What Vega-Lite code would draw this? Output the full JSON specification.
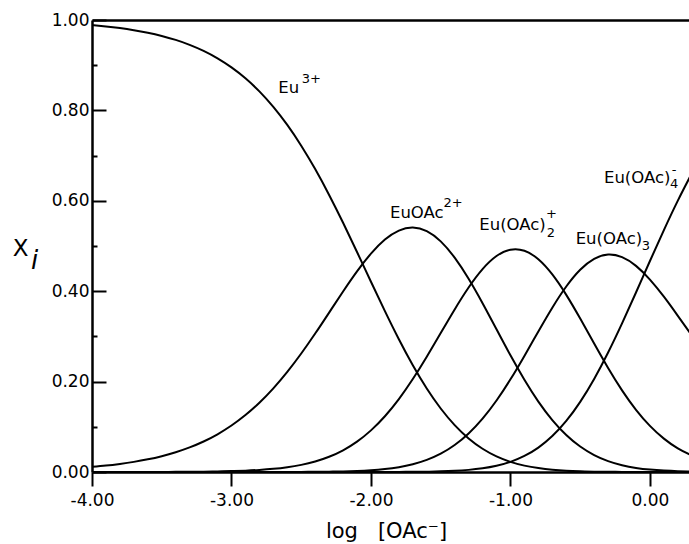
{
  "$schema": "https://vega.github.io/schema/vega-lite/v6.json",
  "width": 597,
  "height": 452,
  "autosize": {"type": "none"},
  "padding": {"left": 92, "top": 20, "right": 0, "bottom": 72},
  "background": "white",
  "config": {
    "view": {"stroke": null},
    "font": "DejaVu Sans",
    "axis": {"grid": false, "domainColor": "black", "tickColor": "black", "labelColor": "black", "titleColor": "black", "labelFont": "DejaVu Sans", "titleFont": "DejaVu Sans"}
  },
  "datasets": {
    "curves": [
      {"x": -4.0, "Eu3": 0.9886, "EuOAc": 0.0114, "EuOAc2": 0.0000, "EuOAc3": 0.0000, "EuOAc4": 0.0000},
      {"x": -3.9, "Eu3": 0.9857, "EuOAc": 0.0142, "EuOAc2": 0.0000, "EuOAc3": 0.0000, "EuOAc4": 0.0000},
      {"x": -3.8, "Eu3": 0.9821, "EuOAc": 0.0179, "EuOAc2": 0.0001, "EuOAc3": 0.0000, "EuOAc4": 0.0000},
      {"x": -3.7, "Eu3": 0.9775, "EuOAc": 0.0224, "EuOAc2": 0.0001, "EuOAc3": 0.0000, "EuOAc4": 0.0000},
      {"x": -3.6, "Eu3": 0.9718, "EuOAc": 0.0280, "EuOAc2": 0.0001, "EuOAc3": 0.0000, "EuOAc4": 0.0000},
      {"x": -3.5, "Eu3": 0.9648, "EuOAc": 0.0350, "EuOAc2": 0.0002, "EuOAc3": 0.0000, "EuOAc4": 0.0000},
      {"x": -3.4, "Eu3": 0.9560, "EuOAc": 0.0437, "EuOAc2": 0.0003, "EuOAc3": 0.0000, "EuOAc4": 0.0000},
      {"x": -3.3, "Eu3": 0.9451, "EuOAc": 0.0544, "EuOAc2": 0.0005, "EuOAc3": 0.0000, "EuOAc4": 0.0000},
      {"x": -3.2, "Eu3": 0.9317, "EuOAc": 0.0675, "EuOAc2": 0.0008, "EuOAc3": 0.0000, "EuOAc4": 0.0000},
      {"x": -3.1, "Eu3": 0.9153, "EuOAc": 0.0835, "EuOAc2": 0.0013, "EuOAc3": 0.0000, "EuOAc4": 0.0000},
      {"x": -3.0, "Eu3": 0.8952, "EuOAc": 0.1028, "EuOAc2": 0.0020, "EuOAc3": 0.0000, "EuOAc4": 0.0000},
      {"x": -2.9, "Eu3": 0.8711, "EuOAc": 0.1259, "EuOAc2": 0.0030, "EuOAc3": 0.0000, "EuOAc4": 0.0000},
      {"x": -2.8, "Eu3": 0.8421, "EuOAc": 0.1532, "EuOAc2": 0.0046, "EuOAc3": 0.0000, "EuOAc4": 0.0000},
      {"x": -2.7, "Eu3": 0.8078, "EuOAc": 0.1851, "EuOAc2": 0.0070, "EuOAc3": 0.0001, "EuOAc4": 0.0000},
      {"x": -2.6, "Eu3": 0.7678, "EuOAc": 0.2215, "EuOAc2": 0.0106, "EuOAc3": 0.0001, "EuOAc4": 0.0000},
      {"x": -2.5, "Eu3": 0.7219, "EuOAc": 0.2621, "EuOAc2": 0.0158, "EuOAc3": 0.0002, "EuOAc4": 0.0000},
      {"x": -2.4, "Eu3": 0.6701, "EuOAc": 0.3063, "EuOAc2": 0.0232, "EuOAc3": 0.0004, "EuOAc4": 0.0000},
      {"x": -2.3, "Eu3": 0.6129, "EuOAc": 0.3527, "EuOAc2": 0.0337, "EuOAc3": 0.0007, "EuOAc4": 0.0000},
      {"x": -2.2, "Eu3": 0.5513, "EuOAc": 0.3994, "EuOAc2": 0.0480, "EuOAc3": 0.0013, "EuOAc4": 0.0000},
      {"x": -2.1, "Eu3": 0.4867, "EuOAc": 0.4439, "EuOAc2": 0.0672, "EuOAc3": 0.0022, "EuOAc4": 0.0000},
      {"x": -2.0, "Eu3": 0.4208, "EuOAc": 0.4832, "EuOAc2": 0.0921, "EuOAc3": 0.0038, "EuOAc4": 0.0000},
      {"x": -1.9, "Eu3": 0.3558, "EuOAc": 0.5143, "EuOAc2": 0.1234, "EuOAc3": 0.0065, "EuOAc4": 0.0001},
      {"x": -1.8, "Eu3": 0.2936, "EuOAc": 0.5342, "EuOAc2": 0.1613, "EuOAc3": 0.0107, "EuOAc4": 0.0002},
      {"x": -1.7, "Eu3": 0.2361, "EuOAc": 0.5408, "EuOAc2": 0.2056, "EuOAc3": 0.0171, "EuOAc4": 0.0004},
      {"x": -1.6, "Eu3": 0.1847, "EuOAc": 0.5328, "EuOAc2": 0.2550, "EuOAc3": 0.0267, "EuOAc4": 0.0007},
      {"x": -1.5, "Eu3": 0.1405, "EuOAc": 0.5102, "EuOAc2": 0.3074, "EuOAc3": 0.0405, "EuOAc4": 0.0014},
      {"x": -1.4, "Eu3": 0.1038, "EuOAc": 0.4742, "EuOAc2": 0.3597, "EuOAc3": 0.0597, "EuOAc4": 0.0026},
      {"x": -1.3, "Eu3": 0.0743, "EuOAc": 0.4275, "EuOAc2": 0.4082, "EuOAc3": 0.0853, "EuOAc4": 0.0047},
      {"x": -1.2, "Eu3": 0.0515, "EuOAc": 0.3734, "EuOAc2": 0.4489, "EuOAc3": 0.1181, "EuOAc4": 0.0082},
      {"x": -1.1, "Eu3": 0.0346, "EuOAc": 0.3157, "EuOAc2": 0.4778, "EuOAc3": 0.1582, "EuOAc4": 0.0138},
      {"x": -1.0, "Eu3": 0.0225, "EuOAc": 0.2581, "EuOAc2": 0.4919, "EuOAc3": 0.2050, "EuOAc4": 0.0225},
      {"x": -0.9, "Eu3": 0.0141, "EuOAc": 0.2041, "EuOAc2": 0.4895, "EuOAc3": 0.2569, "EuOAc4": 0.0355},
      {"x": -0.8, "Eu3": 0.0086, "EuOAc": 0.1558, "EuOAc2": 0.4706, "EuOAc3": 0.3109, "EuOAc4": 0.0540},
      {"x": -0.7, "Eu3": 0.0050, "EuOAc": 0.1150, "EuOAc2": 0.4370, "EuOAc3": 0.3635, "EuOAc4": 0.0795},
      {"x": -0.6, "Eu3": 0.0028, "EuOAc": 0.0819, "EuOAc2": 0.3919, "EuOAc3": 0.4104, "EuOAc4": 0.1130},
      {"x": -0.5, "Eu3": 0.0016, "EuOAc": 0.0563, "EuOAc2": 0.3395, "EuOAc3": 0.4475, "EuOAc4": 0.1552},
      {"x": -0.4, "Eu3": 0.0008, "EuOAc": 0.0375, "EuOAc2": 0.2842, "EuOAc3": 0.4716, "EuOAc4": 0.2059},
      {"x": -0.3, "Eu3": 0.0004, "EuOAc": 0.0241, "EuOAc2": 0.2302, "EuOAc3": 0.4810, "EuOAc4": 0.2643},
      {"x": -0.2, "Eu3": 0.0002, "EuOAc": 0.0150, "EuOAc2": 0.1807, "EuOAc3": 0.4753, "EuOAc4": 0.3288},
      {"x": -0.1, "Eu3": 0.0001, "EuOAc": 0.0091, "EuOAc2": 0.1377, "EuOAc3": 0.4560, "EuOAc4": 0.3971},
      {"x": 0.0, "Eu3": 0.0000, "EuOAc": 0.0054, "EuOAc2": 0.1021, "EuOAc3": 0.4257, "EuOAc4": 0.4668},
      {"x": 0.1, "Eu3": 0.0000, "EuOAc": 0.0031, "EuOAc2": 0.0739, "EuOAc3": 0.3878, "EuOAc4": 0.5353},
      {"x": 0.2, "Eu3": 0.0000, "EuOAc": 0.0017, "EuOAc2": 0.0523, "EuOAc3": 0.3455, "EuOAc4": 0.6005},
      {"x": 0.3, "Eu3": 0.0000, "EuOAc": 0.0010, "EuOAc2": 0.0363, "EuOAc3": 0.3020, "EuOAc4": 0.6607}
    ],
    "labels": [
      {"t": "Eu", "x": -2.6645, "y": 0.8378},
      {"t": "EuOAc", "x": -1.8638, "y": 0.5613},
      {"t": "Eu(OAc)", "x": -1.2237, "y": 0.5354},
      {"t": "Eu(OAc)", "x": -0.5326, "y": 0.5044},
      {"t": "Eu(OAc)", "x": -0.3297, "y": 0.6400}
    ],
    "scripts": [
      {"t": "3+", "x": -2.4968, "y": 0.8600},
      {"t": "2+", "x": -1.4803, "y": 0.5869},
      {"t": "2", "x": -0.7405, "y": 0.5206},
      {"t": "+", "x": -0.7455, "y": 0.5611},
      {"t": "3", "x": -0.0595, "y": 0.4912},
      {"t": "4", "x": 0.1434, "y": 0.6277},
      {"t": "-", "x": 0.1563, "y": 0.6602}
    ],
    "ital": [
      {"t": "i", "x": -4.4373, "y": 0.4491}
    ]
  },
  "layer": [
    {
      "data": {"name": "curves"},
      "transform": [{"fold": ["Eu3", "EuOAc", "EuOAc2", "EuOAc3", "EuOAc4"], "as": ["species", "fraction"]}],
      "mark": {"type": "line", "color": "black", "strokeWidth": 2, "interpolate": "natural", "clip": true},
      "encoding": {
        "x": {
          "field": "x", "type": "quantitative",
          "scale": {"domain": [-4, 0.28], "nice": false, "zero": false},
          "axis": {
            "orient": "bottom",
            "values": [-4, -3, -2, -1, 0],
            "labelExpr": "replace(format(datum.value, '.2f'), '\u2212', '-')",
            "tickSize": 14, "tickWidth": 2, "domainWidth": 2.5,
            "labelFontSize": 17, "labelPadding": 6, "labelFlush": false,
            "title": "log\u00a0\u00a0\u00a0[OAc\u207b]", "titleFontSize": 21, "titleFontWeight": "normal",
            "titleX": 294, "titleY": 65, "titleAlign": "center", "titleBaseline": "alphabetic"
          }
        },
        "y": {
          "field": "fraction", "type": "quantitative",
          "scale": {"domain": [0, 1], "nice": false},
          "axis": {
            "orient": "left",
            "values": [0, 0.2, 0.4, 0.6, 0.8, 1.0],
            "format": ".2f",
            "tickSize": -14, "tickWidth": 2, "domainWidth": 2.5,
            "labelFontSize": 17, "labelPadding": 17, "labelFlush": false,
            "title": "X", "titleFontSize": 23, "titleFontWeight": "normal", "titleAngle": 0,
            "titleX": -72, "titleY": 235, "titleAlign": "center", "titleBaseline": "alphabetic"
          }
        },
        "detail": {"field": "species"}
      }
    },
    {
      "data": {"name": "labels"},
      "mark": {"type": "text", "align": "left", "baseline": "alphabetic", "fontSize": 16.5, "font": "DejaVu Sans", "color": "black"},
      "encoding": {
        "x": {"field": "x", "type": "quantitative",
          "axis": {"orient": "top", "domain": true, "domainWidth": 2.5, "ticks": false, "labels": false, "title": null, "grid": false}},
        "y": {"field": "y", "type": "quantitative",
          "axis": {"orient": "left", "values": [0.1, 0.3, 0.5, 0.7, 0.9], "labels": false, "domain": false, "tickSize": -5, "tickWidth": 2, "title": null, "grid": false}},
        "text": {"field": "t"}
      }
    },
    {
      "data": {"name": "scripts"},
      "mark": {"type": "text", "align": "left", "baseline": "alphabetic", "fontSize": 13, "font": "DejaVu Sans", "color": "black"},
      "encoding": {
        "x": {"field": "x", "type": "quantitative", "axis": null},
        "y": {"field": "y", "type": "quantitative", "axis": null},
        "text": {"field": "t"}
      }
    },
    {
      "data": {"name": "ital"},
      "mark": {"type": "text", "align": "left", "baseline": "alphabetic", "fontSize": 26, "fontStyle": "italic", "font": "DejaVu Sans", "color": "black"},
      "encoding": {
        "x": {"field": "x", "type": "quantitative", "axis": null},
        "y": {"field": "y", "type": "quantitative", "axis": null},
        "text": {"field": "t"}
      }
    }
  ],
  "resolve": {"axis": {"x": "independent", "y": "independent"}}
}
